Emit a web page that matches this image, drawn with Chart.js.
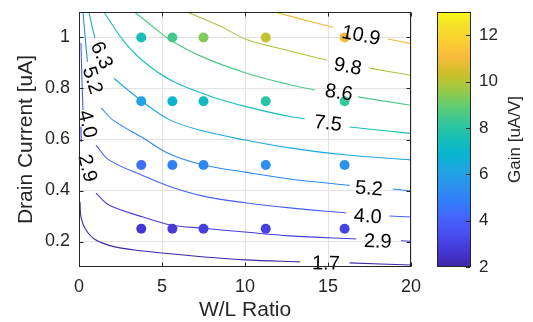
<!DOCTYPE html>
<html>
<head>
<meta charset="utf-8">
<title>Gain contour</title>
<script src="https://cdn.jsdelivr.net/npm/chart.js@4.4.0/dist/chart.umd.min.js"></script>
<style>
    html, body { margin: 0; padding: 0; background: #fff; }
</style>
</head>
<body>
<canvas id="gainChart" width="533" height="322"></canvas>
<script>
// ============================================================
// Gain vs W/L and drain current - contour + measured points
// ============================================================

// ── Measured points ──
const wlRatio = [3.75, 5.625, 7.5, 11.25, 16];
const drainCurrent = [1, 0.75, 0.5, 0.25];
const gainRows = [
    [7.6, 8.5, 9.3, 10.2, 11.0],
    [6.1, 6.9, 7.3, 7.9, 8.2],
    [4.4, 5.0, 5.2, 5.4, 5.6],
    [2.7, 2.8, 2.9, 3.0, 3.1]
];

// ── Contour traces [W/L, I], null = break under an inline label ──
const levels = [1.7, 2.9, 4.0, 5.2, 6.3, 7.5, 8.6, 9.8, 10.9];
const c17 = [[0.06, 0.355], [0.12, 0.296], [0.42, 0.245], [1.02, 0.206], [2.23, 0.178], [3.86, 0.163], [5.8, 0.15], [8, 0.137], [10, 0.128], [13.3, 0.12], null, [16.3, 0.116], [20, 0.108]];
const c29 = [[0.12, 0.65], [0.13, 0.59], null, [1.02, 0.39], [1.8, 0.343], [3.86, 0.296], [5.5, 0.265], [7.5, 0.252], [10, 0.237], [12.7, 0.222], [16.7, 0.21], null, [19.4, 0.203], [20, 0.201]];
const c40 = [[0.12, 0.978], [0.17, 0.85], [0.24, 0.716], null, [1.02, 0.578], [1.8, 0.52], [3.86, 0.458], [5.5, 0.415], [7.5, 0.378], [10, 0.352], [12.7, 0.332], [16.1, 0.312], null, [18.7, 0.3], [20, 0.296]];
const c52 = [[0.24, 1.1], [0.4, 0.98], [0.51, 0.905], null, [1.33, 0.724], [2.05, 0.676], [3.86, 0.606], [5.5, 0.542], [7.5, 0.5], [10, 0.472], [12.7, 0.445], [16.3, 0.42], null, [18.9, 0.406], [20, 0.398]];
const c63 = [[0.6, 1.1], [0.8, 1.04], [0.96, 0.998], null, [2.1, 0.84], [3.8, 0.75], [5.5, 0.676], [7.5, 0.633], [10, 0.598], [12.7, 0.567], [16, 0.54], [20, 0.52]];
const c75 = [[1.5, 1.1], [2.65, 0.99], [3.86, 0.908], [5.6, 0.83], [7.9, 0.77], [10.3, 0.725], [12.7, 0.69], [13.6, 0.682], null, [16.3, 0.649], [20, 0.624]];
const c86 = [[3.35, 1.1], [4.5, 1.04], [5.5, 0.99], [7.4, 0.925], [10.1, 0.86], [12.7, 0.815], [14.2, 0.794], null, [16.8, 0.767], [20, 0.734]];
const c98 = [[6.5, 1.1], [8.5, 1.045], [10.1, 0.992], [12.7, 0.947], [14.9, 0.912], null, [17.5, 0.88], [20, 0.852]];
const c109 = [[11.8, 1.1], [13.5, 1.07], [15.3, 1.04], null, [18.6, 0.994], [20, 0.976]];
const contours = [c17, c29, c40, c52, c63, c75, c86, c98, c109];

// inline labels: [level, W/L, I, angle deg]
const labelSpots = [
    [10.9, 16.99, 1.01, 11], [9.8, 16.2, 0.888, 10], [8.6, 15.66, 0.786, 8], [7.5, 15.0, 0.665, 7],
    [6.3, 1.39, 0.931, 65], [5.2, 0.84, 0.833, 72], [4.0, 0.54, 0.661, 76], [2.9, 0.54, 0.488, 76],
    [5.2, 17.47, 0.41, 4], [4.0, 17.4, 0.30, 3], [2.9, 18.0, 0.202, 2], [1.7, 14.88, 0.116, 1]
];

// ── Ticks ──
const xTicks = [0, 5, 10, 15, 20];
const yTicks = [0.2, 0.4, 0.6, 0.8, 1];
const cTicks = [2, 4, 6, 8, 10, 12];
const cRange = [2, 13];

// ── Parula colormap ──
const parulaStops = [
    [0.2422, 0.1504, 0.6603], [0.2706, 0.2147, 0.8364], [0.2813, 0.3006, 0.9414], [0.2699, 0.3892, 0.9906],
    [0.1963, 0.4847, 0.9892], [0.1687, 0.5703, 0.9359], [0.1248, 0.6459, 0.8883], [0.0297, 0.7082, 0.8163],
    [0.0964, 0.7500, 0.7120], [0.2161, 0.7843, 0.5923], [0.3909, 0.8029, 0.4354], [0.6174, 0.7876, 0.2612],
    [0.8203, 0.7498, 0.1535], [0.9728, 0.7298, 0.2394], [0.9892, 0.8136, 0.1885], [0.9610, 0.8890, 0.1537],
    [0.9769, 0.9839, 0.0805]
];
const stopPos = parulaStops.map((s, i) => i < 16 ? i * 4 / 63 : 1);

function parula(t) {
    t = Math.max(0, Math.min(1, t));
    let i = 0;
    while (i < stopPos.length - 2 && t > stopPos[i + 1]) i++;
    const f = (t - stopPos[i]) / (stopPos[i + 1] - stopPos[i]);
    const a = parulaStops[i], b = parulaStops[i + 1];
    const c = a.map((v, k) => Math.round((v + (b[k] - v) * f) * 255));
    return "rgb(" + c.join(",") + ")";
}
function gainColor(g) { return parula((g - cRange[0]) / (cRange[1] - cRange[0])); }

// ── Datasets ──
function toPts(arr) {
    return arr.map(function (p, i) {
        if (p) return { x: p[0], y: p[1] };
        return { x: (arr[i - 1][0] + arr[i + 1][0]) / 2, y: null };
    });
}

var dots = [], dotColors = [];
drainCurrent.forEach(function (cur, r) {
    wlRatio.forEach(function (wl, c) {
        dots.push({ x: wl, y: cur });
        dotColors.push(gainColor(gainRows[r][c]));
    });
});

var datasets = [{
    type: "scatter",
    data: dots,
    pointBackgroundColor: dotColors,
    pointBorderColor: dotColors,
    pointBorderWidth: 0,
    pointRadius: 5,
    order: 1
}];
levels.forEach(function (lv, k) {
    datasets.push({
        type: "line",
        data: toPts(contours[k]),
        borderColor: gainColor(lv),
        borderWidth: 1.1,
        pointRadius: 0,
        tension: 0.35,
        spanGaps: false,
        fill: false,
        order: 2
    });
});

// ── Plugins ──
const FONT = "'Liberation Sans', Arial, Helvetica, sans-serif";
const INK = "#262626";

const contourLabels = {
    id: "contourLabels",
    afterDatasetsDraw(chart) {
        const ctx = chart.ctx, sx = chart.scales.x, sy = chart.scales.y;
        ctx.save();
        ctx.font = "20px " + FONT;
        ctx.fillStyle = "#000";
        ctx.textAlign = "center";
        ctx.textBaseline = "middle";
        labelSpots.forEach(function (s) {
            ctx.save();
            ctx.translate(sx.getPixelForValue(s[1]), sy.getPixelForValue(s[2]));
            ctx.rotate(s[3] * Math.PI / 180);
            ctx.fillText(s[0].toFixed(1), 0, 1);
            ctx.restore();
        });
        ctx.restore();
    }
};

const frame = {
    id: "frame",
    afterDraw(chart) {
        const ctx = chart.ctx, a = chart.chartArea;
        const sx = chart.scales.x, sy = chart.scales.y, sc = chart.scales.c;
        const L = Math.round(a.left) + 0.5, T = Math.round(a.top) + 0.5;
        const R = Math.round(a.right) - 0.5, B = Math.round(a.bottom) - 0.5;
        ctx.save();
        ctx.strokeStyle = INK;
        ctx.lineWidth = 1;
        ctx.strokeRect(L, T, R - L, B - T);
        ctx.beginPath();
        xTicks.forEach(function (v) {
            const p = Math.round(sx.getPixelForValue(v)) + 0.5;
            ctx.moveTo(p, B); ctx.lineTo(p, B - 4);
            ctx.moveTo(p, T); ctx.lineTo(p, T + 4);
        });
        yTicks.forEach(function (v) {
            const p = Math.round(sy.getPixelForValue(v)) + 0.5;
            ctx.moveTo(L, p); ctx.lineTo(L + 4, p);
            ctx.moveTo(R, p); ctx.lineTo(R - 4, p);
        });
        ctx.stroke();

        // colorbar
        const cbL = Math.round(sc.left) + 26, cbW = 34;
        const yTop = sc.getPixelForValue(cRange[1]), yBot = sc.getPixelForValue(cRange[0]);
        const grad = ctx.createLinearGradient(0, yBot, 0, yTop);
        for (let i = 0; i <= 40; i++) grad.addColorStop(i / 40, parula(i / 40));
        ctx.fillStyle = grad;
        ctx.fillRect(cbL, yTop, cbW, yBot - yTop);
        ctx.strokeRect(cbL + 0.5, Math.round(yTop) + 0.5, cbW - 1, Math.round(yBot - yTop) - 1);
        ctx.beginPath();
        cTicks.forEach(function (v) {
            const p = Math.round(sc.getPixelForValue(v)) + 0.5;
            ctx.moveTo(cbL + cbW - 1, p); ctx.lineTo(cbL + cbW - 5, p);
        });
        ctx.stroke();

        ctx.translate(sc.left + 104, (yTop + yBot) / 2);
        ctx.rotate(-Math.PI / 2);
        ctx.font = "17px " + FONT;
        ctx.fillStyle = INK;
        ctx.textAlign = "center";
        ctx.textBaseline = "middle";
        ctx.fillText("Gain [uA/V]", 0, 0);
        ctx.restore();
    }
};

// fixed box sizes; drop the label overhang padding so the plot keeps its place
function fixWidth(w) {
    return function (s) { s.width = w; s.paddingTop = 0; s.paddingBottom = 0; };
}
function fixHeight(h) {
    return function (s) { s.height = h; s.paddingLeft = 0; s.paddingRight = 0; };
}

// ── Chart ──
Chart.defaults.font.family = FONT;
Chart.defaults.color = INK;

new Chart(document.getElementById("gainChart"), {
    type: "scatter",
    data: { datasets: datasets },
    options: {
        responsive: false,
        animation: false,
        events: [],
        layout: { padding: { top: 12, left: 0, right: 0, bottom: 0 } },
        plugins: { legend: { display: false }, tooltip: { enabled: false } },
        scales: {
            x: {
                type: "linear",
                position: "bottom",
                min: 0,
                max: 20,
                afterBuildTicks: function (s) { s.ticks = xTicks.map(function (v) { return { value: v }; }); },
                afterFit: fixHeight(55),
                grid: { color: "#e2e2e2", drawTicks: false },
                border: { display: false },
                ticks: { font: { size: 18 }, padding: 9, maxRotation: 0, callback: function (v) { return String(v); } },
                title: { display: true, text: "W/L Ratio", font: { size: 21, lineHeight: 1 }, padding: { top: 0, bottom: 1 } }
            },
            y: {
                type: "linear",
                position: "left",
                min: 0.1,
                max: 1.1,
                afterBuildTicks: function (s) { s.ticks = yTicks.map(function (v) { return { value: v }; }); },
                afterFit: fixWidth(79),
                grid: { color: "#e2e2e2", drawTicks: false },
                border: { display: false },
                ticks: { font: { size: 18 }, padding: 9, callback: function (v) { return String(v); } },
                title: { display: true, text: "Drain Current [uA]", font: { size: 21, lineHeight: 1 }, padding: { top: 16, bottom: 0 } }
            },
            c: {
                type: "linear",
                axis: "y",
                position: "right",
                min: cRange[0],
                max: cRange[1],
                afterBuildTicks: function (s) { s.ticks = cTicks.map(function (v) { return { value: v }; }); },
                afterFit: fixWidth(122),
                grid: { display: false, drawTicks: false },
                border: { display: false },
                ticks: { font: { size: 17 }, padding: 68, callback: function (v) { return String(v); } }
            }
        }
    },
    plugins: [contourLabels, frame]
});
</script>
</body>
</html>
